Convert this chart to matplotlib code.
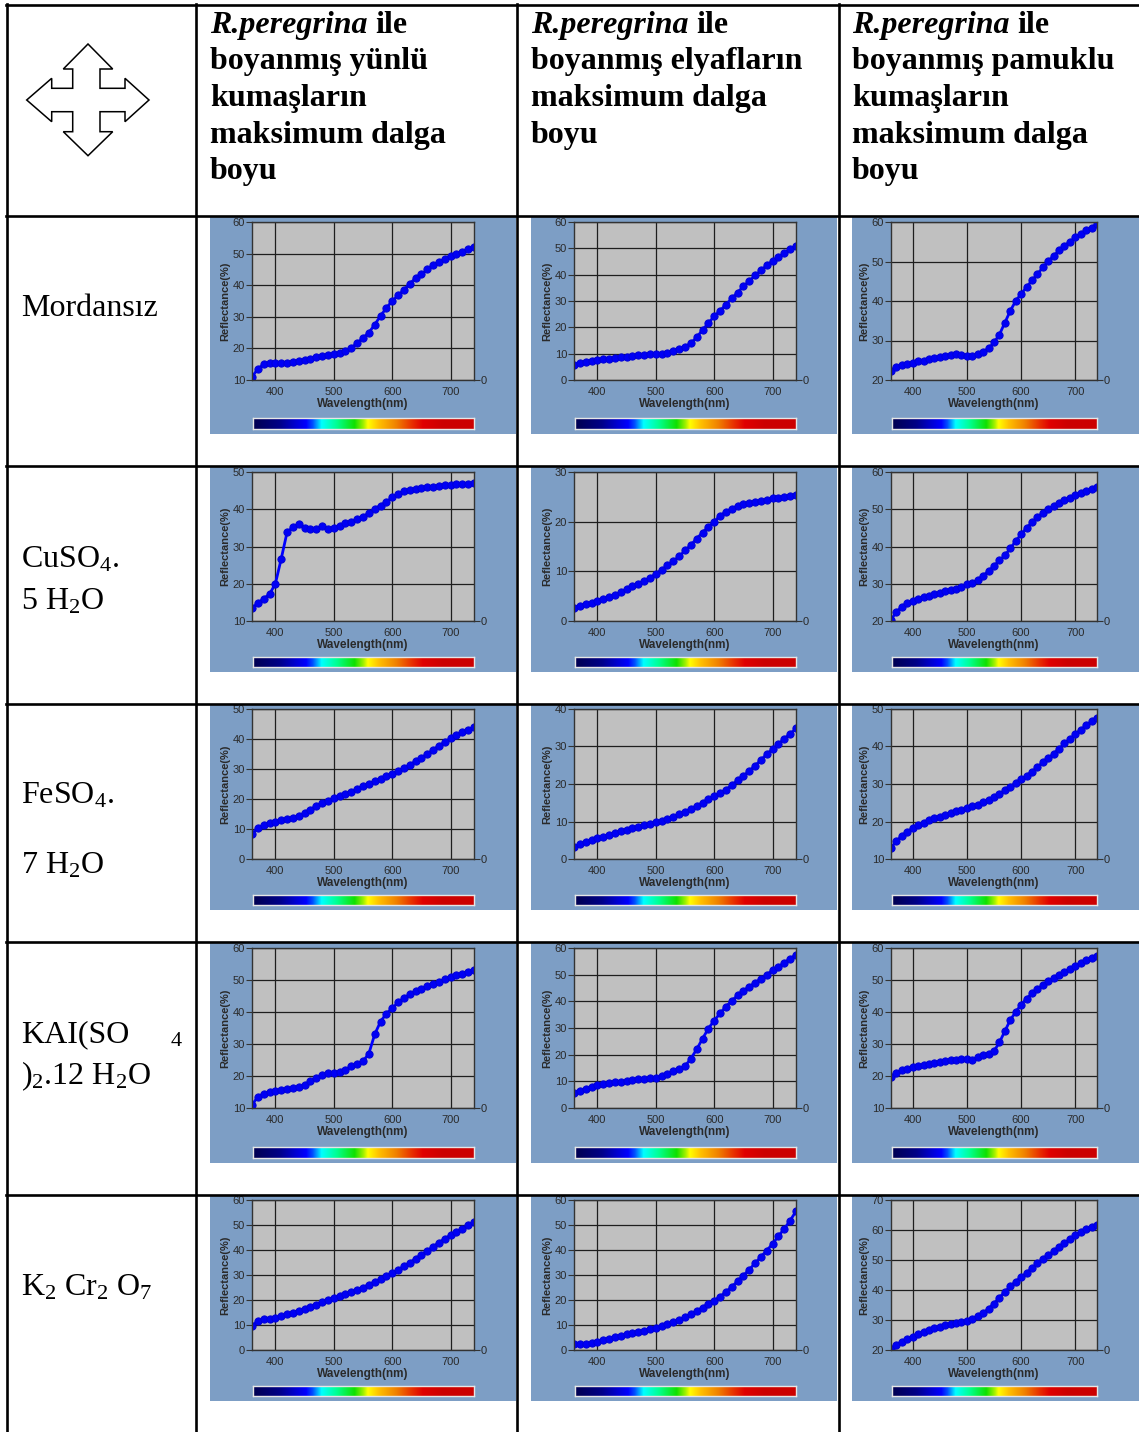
import numpy as np
import matplotlib
matplotlib.use("Agg")
import matplotlib.pyplot as plt
from matplotlib import font_manager
from matplotlib.colors import LinearSegmentedColormap
from matplotlib.patches import Rectangle, Polygon
from matplotlib.lines import Line2D

# ---- data ----
wavelength = np.arange(360, 741, 10)

wool_none = [11, 13.5, 15, 15.3, 15.5, 15.5, 15.5, 15.7, 16, 16.3, 16.8, 17.3, 17.6, 18, 18.3,
             18.6, 19.2, 20.2, 21.7, 23.3, 25, 27.5, 30.3, 32.8, 35, 36.8, 38.5, 40.5, 42.2, 43.4,
             45, 46.4, 47.3, 48.4, 49.3, 50, 50.6, 51.3, 52]
fiber_none = [5.8, 6.5, 7, 7.4, 7.6, 7.8, 8.1, 8.4, 8.6, 8.9, 9.2, 9.4, 9.6, 9.8, 9.8,
              9.9, 10.3, 11, 11.8, 12.6, 14, 16.2, 19, 21.6, 24.2, 26.3, 28.6, 31, 33.2, 35.6,
              37.6, 39.7, 41.6, 43.6, 45.2, 46.6, 48.2, 49.6, 51]
cotton_none = [22.3, 23.3, 23.8, 24.1, 24.4, 24.7, 24.9, 25.2, 25.5, 25.8, 26.1, 26.4, 26.5, 26.3, 26.2,
               26.1, 26.5, 27.2, 28, 29.5, 31.5, 34.5, 37.5, 40, 41.8, 43.5, 45.2, 46.8, 48.5, 50.1,
               51.4, 52.8, 54, 55, 56.1, 57, 57.9, 58.6, 59.5]

wool_cu = [13.5, 14.8, 16, 17.2, 20, 26.7, 33.8, 35.2, 36, 35.1, 34.8, 34.6, 35.5, 34.8, 35,
           35.6, 36.2, 36.7, 37.3, 38, 39, 40.2, 41, 42, 43.2, 44, 44.8, 45.2, 45.5, 45.8,
           46, 46.1, 46.3, 46.4, 46.6, 46.7, 46.8, 46.8, 47.1]
fiber_cu = [2.7, 3.1, 3.4, 3.7, 4.1, 4.5, 4.9, 5.3, 5.8, 6.4, 7.0, 7.5, 8.1, 8.7, 9.5,
            10.3, 11.2, 12.1, 13, 14.2, 15.3, 16.6, 17.8, 19, 20, 21.2, 22, 22.6, 23.2, 23.6,
            23.8, 24, 24.2, 24.4, 24.7, 24.8, 25, 25.2, 25.4]
cotton_cu = [20.3, 22.5, 23.8, 24.8, 25.5, 26, 26.4, 26.8, 27.2, 27.6, 28, 28.3, 28.7, 29.2, 29.8,
             30.3, 31, 32.2, 33.4, 34.8, 36.3, 37.6, 39.5, 41.4, 43.3, 45, 46.5, 47.8, 49.1, 50,
             50.9, 51.7, 52.4, 53, 53.7, 54.3, 54.9, 55.4, 56.1]

wool_fe = [8.5, 10.3, 11.3, 12, 12.5, 12.9, 13.3, 13.8, 14.5, 15.3, 16.5, 17.7, 18.7, 19.5, 20.3,
           21, 21.7, 22.5, 23.3, 24.2, 25, 25.9, 26.8, 27.6, 28.4, 29.3, 30.3, 31.4, 32.6, 33.8,
           35, 36.4, 37.8, 39, 40.2, 41.2, 42.2, 43.1, 44]
fiber_fe = [3.3, 3.9, 4.5, 5, 5.5, 6, 6.5, 7, 7.4, 7.8, 8.2, 8.6, 9, 9.4, 9.8,
            10.2, 10.7, 11.2, 11.9, 12.6, 13.4, 14.2, 15, 15.9, 16.8, 17.6, 18.5, 19.7, 21, 22.2,
            23.5, 24.9, 26.4, 28, 29.3, 30.7, 32.1, 33.4, 34.8]
cotton_fe = [13, 14.8, 16.2, 17.3, 18.2, 19, 19.7, 20.3, 20.8, 21.3, 21.8, 22.3, 22.7, 23.1, 23.5,
             24, 24.5, 25.1, 25.7, 26.5, 27.4, 28.3, 29.3, 30.3, 31.2, 32.2, 33.3, 34.5, 35.8, 36.8,
             38.1, 39.4, 40.8, 42, 43.3, 44.5, 45.6, 46.7, 47.7]

wool_kal = [11, 13.5, 14.5, 15, 15.2, 15.5, 15.8, 16.1, 16.5, 17.3, 18.3, 19.5, 20.3, 20.9, 21,
            21.3, 22, 23, 23.8, 24.6, 27, 33, 37, 39.5, 41.2, 43, 44.3, 45.5, 46.5, 47.3,
            48, 48.8, 49.5, 50.2, 50.8, 51.5, 52, 52.5, 53]
fiber_kal = [5.8, 6.5, 7.3, 8, 8.5, 9, 9.3, 9.6, 9.9, 10.2, 10.5, 10.8, 11, 11.2, 11.4,
             12, 12.8, 13.7, 14.6, 15.7, 18.5, 22, 26, 29.8, 32.8, 35.5, 38, 40.2, 42.2, 44,
             45.5, 47, 48.5, 50, 51.7, 53, 54.5, 56, 57.5]
cotton_kal = [19.8, 21, 21.8, 22.3, 22.7, 23, 23.4, 23.7, 24, 24.4, 24.7, 25, 25.1, 25.2, 25.2,
              25, 25.8, 26.5, 27, 27.8, 30.5, 34, 37.5, 40, 42.3, 44.2, 45.8, 47.2, 48.4, 49.6,
              50.6, 51.6, 52.5, 53.5, 54.4, 55.3, 56.1, 56.8, 57.5]

wool_cr = [9.8, 11.5, 12.3, 12.5, 12.8, 13.5, 14.3, 15, 15.7, 16.4, 17.2, 18.2, 19.3, 20.1, 20.8,
           21.6, 22.4, 23.2, 24, 25, 26.2, 27.3, 28.4, 29.6, 30.8, 32.1, 33.5, 35, 36.5, 38,
           39.7, 41.3, 43, 44.5, 46, 47.3, 48.6, 50, 51.2]
fiber_cr = [2.5, 2.6, 2.5, 2.9, 3.4, 4, 4.6, 5.2, 5.8, 6.3, 6.8, 7.3, 7.8, 8.3, 8.9,
            9.6, 10.3, 11.1, 12, 13.1, 14.3, 15.6, 17, 18.5, 19.8, 21.4, 23.2, 25.3, 27.5, 29.8,
            32.2, 34.7, 37.3, 39.8, 42.5, 45.6, 48.5, 51.8, 55.5]
cotton_cr = [20.5, 21.8, 22.8, 23.6, 24.5, 25.3, 26, 26.6, 27.2, 27.7, 28.2, 28.6, 29, 29.4, 29.8,
             30.5, 31.3, 32.3, 33.8, 35.5, 37.5, 39.4, 41.2, 42.8, 44.3, 45.7, 47.3, 48.9, 50.3, 51.6,
             53, 54.3, 55.6, 56.9, 58.2, 59.3, 60.2, 61, 61.7]

curves = [[wool_none, fiber_none, cotton_none],
          [wool_cu, fiber_cu, cotton_cu],
          [wool_fe, fiber_fe, cotton_fe],
          [wool_kal, fiber_kal, cotton_kal],
          [wool_cr, fiber_cr, cotton_cr]]
y_ranges = [[(10, 60), (0, 60), (20, 60)],
            [(10, 50), (0, 30), (20, 60)],
            [(0, 50), (0, 40), (10, 50)],
            [(10, 60), (0, 60), (10, 60)],
            [(0, 60), (0, 60), (20, 70)]]
x_ticks = [400, 500, 600, 700]

header_lines = [["boyanmış yünlü", "kumaşların", "maksimum dalga", "boyu"],
                ["boyanmış elyafların", "maksimum dalga", "boyu"],
                ["boyanmış pamuklu", "kumaşların", "maksimum dalga", "boyu"]]

# ---- layout (pixels) ----
W, H = 1139, 1432
col_px = [(210, 252, 474, 516), (531, 574, 796, 837), (852, 891, 1097, 1139)]
row_px = [(217, 222, 380, 418, 429, 434), (467, 472, 621, 657, 667, 672),
          (705, 709, 859, 895, 905, 910), (943, 948, 1108, 1147, 1158, 1163),
          (1196, 1200, 1350, 1386, 1396, 1401)]
hlines = [5, 216, 466, 704, 942, 1195]
vlines = [7, 196, 517, 839]

names = {f.name for f in font_manager.fontManager.ttflist}
chart_font = 'Liberation Sans Narrow' if 'Liberation Sans Narrow' in names else 'Liberation Sans'
serif = 'Liberation Serif'

plt.rcParams['font.family'] = [chart_font, 'DejaVu Sans']
plt.rcParams['mathtext.fontset'] = 'custom'
plt.rcParams['mathtext.rm'] = serif
plt.rcParams['mathtext.it'] = serif + ':italic'
plt.rcParams['mathtext.bf'] = serif + ':bold'


def fx(x):
    return x / W


def fy(y):
    return 1 - y / H


def rect(l, t, r, b):
    return [l / W, 1 - b / H, (r - l) / W, (b - t) / H]


spectrum = LinearSegmentedColormap.from_list('spec', [
    (0.0, '#000050'), (0.12, '#000088'), (0.19, '#0000d0'), (0.24, '#0000ff'),
    (0.27, '#0050ff'), (0.31, '#00ffff'), (0.38, '#00ff90'), (0.46, '#10e000'),
    (0.50, '#a0f000'), (0.52, '#ffff00'), (0.57, '#ffc000'), (0.65, '#f08000'),
    (0.72, '#e83000'), (0.77, '#e00000'), (0.86, '#cc0000'), (1.0, '#cc0000')])

panel_color = '#7d9ec5'
grid_color = '#1e1e1e'
text_color = '#2a2a2a'

fig = plt.figure(figsize=(W / 100, H / 100), dpi=100)
fig.patch.set_facecolor('white')

for r, (pt, at, ab, ct, cb, pb) in enumerate(row_px):
    for c, (pl, al, ar, pr) in enumerate(col_px):
        fig.add_artist(Rectangle((fx(pl), fy(pb)), (pr - pl) / W, (pb - pt) / H,
                                 transform=fig.transFigure, fc=panel_color, ec='none', zorder=0))
        ymin, ymax = y_ranges[r][c]
        ax = fig.add_axes(rect(al, at, ar, ab))
        ax.set_facecolor('#c0c0c0')
        ax.plot(wavelength, curves[r][c], '-o', color='#0000ff', lw=2.0, ms=5.2,
                mfc='#0000f5', mec='#0000d8', mew=0.7)
        ax.set_xlim(360, 740)
        ax.set_ylim(ymin, ymax)
        ax.set_xticks(x_ticks)
        ax.set_yticks(range(ymin, ymax + 1, 10))
        ax.grid(True, color=grid_color, lw=0.9)
        ax.tick_params(axis='y', direction='out', length=4, width=0.8, color='#333333',
                       labelsize=8, pad=1, labelcolor=text_color)
        ax.tick_params(axis='x', length=0, pad=5, labelsize=8, labelcolor=text_color)
        ax.set_xlabel('Wavelength(nm)', fontweight='bold', fontsize=8.5, labelpad=1, color=text_color)
        ax.set_ylabel('Reflectance(%)', fontweight='bold', fontsize=8, labelpad=2, color=text_color)
        for s in ax.spines.values():
            s.set_color('#333333')
            s.set_linewidth(1)
        ax2 = ax.twinx()
        ax2.set_ylim(0, 1)
        ax2.set_yticks([0])
        ax2.tick_params(axis='y', direction='out', length=4, width=0.8, color='#333333',
                        labelsize=8, pad=1, labelcolor=text_color)
        for s in ax2.spines.values():
            s.set_visible(False)

        cax = fig.add_axes(rect(al + 1, ct, ar, cb))
        cax.imshow(np.linspace(0, 1, 256)[None, :], aspect='auto', cmap=spectrum)
        cax.set_xticks([])
        cax.set_yticks([])
        for s in cax.spines.values():
            s.set_color('#e6e6e6')
            s.set_linewidth(1)

# table lines
for y in hlines:
    fig.add_artist(Line2D([fx(6), fx(W)], [fy(y), fy(y)], color='black', lw=1.9, zorder=5))
for x in vlines:
    fig.add_artist(Line2D([fx(x), fx(x)], [fy(4), fy(H)], color='black', lw=1.9, zorder=5))

# four-way arrow icon
arrow_px = [(88, 44), (112.7, 69), (100, 69), (100, 88.3), (125, 88.3), (125, 78.3), (149, 100),
            (125, 121.7), (125, 111.7), (100, 111.7), (100, 131.7), (112.7, 131.7), (88, 155.7),
            (63.3, 131.7), (72.7, 131.7), (72.7, 111.7), (51.7, 111.7), (51.7, 121.7), (26.7, 100),
            (51.7, 78.3), (51.7, 88.3), (72.7, 88.3), (72.7, 69), (63.3, 69)]
fig.add_artist(Polygon([(fx(x), fy(y)) for x, y in arrow_px], closed=True,
                       transform=fig.transFigure, fc='white', ec='black', lw=1.1, zorder=6))

# header text
renderer = fig.canvas.get_renderer()
head_x = [210, 531, 852]
head_base = [33, 69.5, 106, 142.5, 179]
hsize = 23
for c, x0 in enumerate(head_x):
    t = fig.text(fx(x0), fy(head_base[0]), 'R.peregrina', family=serif, fontsize=hsize,
                 fontweight='bold', fontstyle='italic', va='baseline')
    bb = t.get_window_extent(renderer)
    fig.text(fx(bb.x1 + 8), fy(head_base[0]), 'ile', family=serif, fontsize=hsize,
             fontweight='bold', va='baseline')
    for i, line in enumerate(header_lines[c]):
        fig.text(fx(x0), fy(head_base[i + 1]), line, family=serif, fontsize=hsize,
                 fontweight='bold', va='baseline')

# row labels
rsize = 23
row_labels = [(316, 'Mordansız'), (568, r'CuSO$_\mathrm{4}$.'), (609, r'5 H$_\mathrm{2}$O'),
              (804, r'FeSO$_\mathrm{4}$.'), (873, r'7 H$_\mathrm{2}$O'), (1042, 'KAI(SO'),
              (1084, r')$_\mathrm{2}$.12 H$_\mathrm{2}$O'),
              (1295, r'K$_\mathrm{2}$ Cr$_\mathrm{2}$ O$_\mathrm{7}$')]
for yb, label in row_labels:
    fig.text(fx(21), fy(yb), label, family=serif, fontsize=rsize, va='baseline')
fig.text(fx(171), fy(1046), '4', family=serif, fontsize=16, va='baseline')

fig.savefig('out.png', dpi=100, facecolor='white')
